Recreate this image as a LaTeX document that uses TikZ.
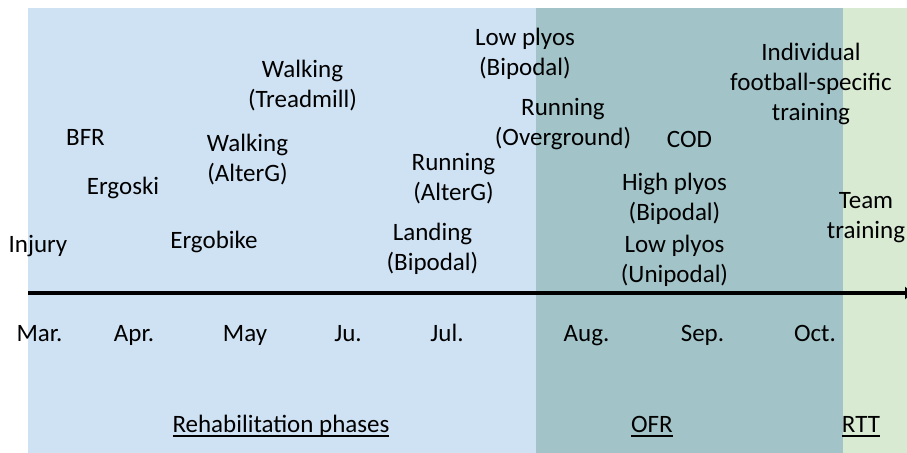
\documentclass[tikz,border=0pt]{standalone}
\usepackage{fontspec}
\setmainfont{Carlito}
\usetikzlibrary{arrows.meta}
\definecolor{rehabblue}{HTML}{CFE2F3}
\definecolor{ofrteal}{HTML}{A2C4C9}
\definecolor{rttgreen}{HTML}{D9EAD3}
\newcommand{\ulphase}[1]{\leavevmode\setbox0=\hbox{#1}\rlap{\rule[-4pt]{\wd0}{1.4pt}}\box0}

\begin{document}
\begin{tikzpicture}[
    x=0.75pt, y=-0.75pt,
    event/.style={anchor=base, align=center, inner sep=0pt,
                  font=\fontsize{18.75}{22.5}\selectfont},
    month/.style={event},
    phase/.style={event},
    timeline/.style={-{Triangle[length=6pt, width=9pt]}, line width=3pt, black}
  ]
    \useasboundingbox (0,0) rectangle (907,453);
    \fill[rehabblue] (28,8) rectangle (536,453);
    \fill[ofrteal] (536,8) rectangle (843,453);
    \fill[rttgreen] (843,8) rectangle (907,453);

    \coordinate (axisstart) at (28,293);
    \coordinate (axisend) at (913,293);
    \draw[timeline] (axisstart) -- (axisend);

    \node[event] (injury) at (38,252) {Injury};
    \node[event] (bfr) at (85.5,145) {BFR};
    \node[event] (ergoski) at (123,194) {Ergoski};
    \node[event] (ergobike) at (214,248) {Ergobike};
    \node[event] (walkalterg) at (247.5,181) {Walking\\(AlterG)};
    \node[event] (walktread) at (302.5,108) {Walking\\(Treadmill)};
    \node[event] (runalterg) at (453.5,200) {Running\\(AlterG)};
    \node[event] (landing) at (432.5,270) {Landing\\(Bipodal)};
    \node[event] (lowbipodal) at (525,76) {Low plyos\\(Bipodal)};
    \node[event] (runover) at (563,145) {Running\\(Overground)};
    \node[event] (cod) at (689.5,147) {COD};
    \node[event] (individual) at (811,120) {Individual\\football-specific\\training};
    \node[event] (highbipodal) at (674.5,220) {High plyos\\(Bipodal)};
    \node[event] (lowunipodal) at (674.5,282) {Low plyos\\(Unipodal)};
    \node[event] (team) at (866,238) {Team\\training};

    \node[month] (mar) at (39.5,341) {Mar.};
    \node[month] (apr) at (134,341) {Apr.};
    \node[month] (may) at (245,341) {May};
    \node[month] (jun) at (348,341) {Ju.};
    \node[month] (jul) at (447,341) {Jul.};
    \node[month] (aug) at (586.5,341) {Aug.};
    \node[month] (sep) at (702.5,341) {Sep.};
    \node[month] (oct) at (815,341) {Oct.};

    \node[phase] (rehab) at (281,432) {\ulphase{Rehabilitation phases}};
    \node[phase] (ofr) at (652,432) {\ulphase{OFR}};
    \node[phase] (rtt) at (861,432) {\ulphase{RTT}};
  \end{tikzpicture}
\end{document}
